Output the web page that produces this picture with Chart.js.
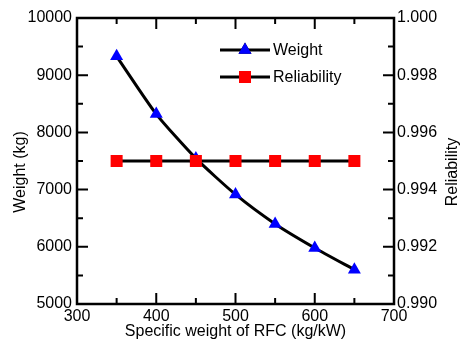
<!DOCTYPE html>
<html>
<head>
<meta charset="utf-8">
<script src="https://cdn.jsdelivr.net/npm/chart.js@4.4.0/dist/chart.umd.min.js"></script>
<style>
  html, body { margin: 0; padding: 0; background: #fff; }
  #wrap { width: 464px; height: 344px; }
</style>
</head>
<body>
<div id="wrap"><canvas id="chart"></canvas></div>
<script>
var specWeight = [350, 400, 450, 500, 550, 600, 650];
var weight = [9330, 8320, 7545, 6915, 6400, 5980, 5600];
var reliability = [0.995, 0.995, 0.995, 0.995, 0.995, 0.995, 0.995];
var seriesNames = ['Weight', 'Reliability'];

var FONT = 'Arial, "Liberation Sans", sans-serif';

function pts(xs, ys) {
    return xs.map(function (x, i) { return { x: x, y: ys[i] }; });
}

// frame, inward ticks on all sides, y titles and legend
var decor = {
    id: 'decor',
    afterDraw: function (chart) {
        var ctx = chart.ctx;
        var a = chart.chartArea;
        var xs = chart.scales.x, yl = chart.scales.y, yr = chart.scales.y1;
        ctx.save();
        ctx.strokeStyle = '#000';
        ctx.lineWidth = 2;
        ctx.beginPath();
        var v, p, len;
        for (v = 300; v <= 700; v += 50) {
            p = xs.getPixelForValue(v);
            len = (v % 100 === 0) ? 11 : 6;
            ctx.moveTo(p, a.bottom); ctx.lineTo(p, a.bottom - len);
            ctx.moveTo(p, a.top); ctx.lineTo(p, a.top + len);
        }
        for (v = 5000; v <= 10000; v += 500) {
            p = yl.getPixelForValue(v);
            len = (v % 1000 === 0) ? 11 : 6;
            ctx.moveTo(a.left, p); ctx.lineTo(a.left + len, p);
        }
        for (var k = 0; k <= 10; k++) {
            p = yr.getPixelForValue(0.990 + k * 0.001);
            len = (k % 2 === 0) ? 11 : 6;
            ctx.moveTo(a.right, p); ctx.lineTo(a.right - len, p);
        }
        ctx.stroke();

        ctx.lineWidth = 2.5;
        ctx.strokeRect(a.left, a.top, a.right - a.left, a.bottom - a.top);

        // axis titles (both read bottom to top)
        ctx.fillStyle = '#000';
        ctx.font = '16px ' + FONT;
        ctx.textAlign = 'center';
        ctx.textBaseline = 'middle';
        ctx.save();
        ctx.translate(21, 172);
        ctx.rotate(-Math.PI / 2);
        ctx.fillText('Weight (kg)', 0, 0);
        ctx.restore();
        ctx.save();
        ctx.translate(453, 172);
        ctx.rotate(-Math.PI / 2);
        ctx.fillText('Reliability', 0, 0);
        ctx.restore();

        // legend
        var rows = [50, 77];
        chart.data.datasets.forEach(function (ds) {
            var y = rows[seriesNames.indexOf(ds.label)];
            ctx.strokeStyle = '#000';
            ctx.lineWidth = 3;
            ctx.beginPath();
            ctx.moveTo(220, y); ctx.lineTo(270, y);
            ctx.stroke();
            Chart.helpers.drawPoint(ctx, {
                pointStyle: ds.pointStyle,
                radius: ds.pointRadius,
                borderWidth: 0
            }, 245, y);
            ctx.fillStyle = ds.pointBackgroundColor;
            ctx.fill();
            ctx.fillStyle = '#000';
            ctx.textAlign = 'left';
            ctx.fillText(ds.label, 273, y + 1);
        });
        ctx.restore();
    }
};

var tickFont = { family: FONT, size: 16 };

new Chart(document.getElementById('chart'), {
    type: 'line',
    data: {
        datasets: [{
            label: seriesNames[0],
            data: pts(specWeight, weight),
            yAxisID: 'y',
            borderColor: '#000',
            borderWidth: 3,
            pointStyle: 'triangle',
            pointRadius: 7.5,
            pointBackgroundColor: '#0000ff',
            pointBorderColor: '#0000ff',
            pointBorderWidth: 0,
            tension: 0.2,
            order: 2
        }, {
            label: seriesNames[1],
            data: pts(specWeight, reliability),
            yAxisID: 'y1',
            borderColor: '#000',
            borderWidth: 3,
            pointStyle: 'rect',
            pointRadius: 8.5,
            pointBackgroundColor: '#ff0000',
            pointBorderColor: '#ff0000',
            pointBorderWidth: 0,
            order: 1
        }]
    },
    options: {
        responsive: true,
        maintainAspectRatio: false,
        animation: false,
        layout: { padding: { top: 18, left: 0, right: 0, bottom: 0 } },
        plugins: { legend: { display: false }, tooltip: { enabled: false } },
        scales: {
            x: {
                type: 'linear',
                min: 300, max: 700,
                grid: { display: false, drawTicks: false },
                border: { display: false },
                afterFit: function (s) { s.height = 40; },
                ticks: {
                    stepSize: 100, padding: 3, color: '#000', font: tickFont,
                    callback: function (v) { return String(v); }
                },
                title: {
                    display: true,
                    text: 'Specific weight of RFC (kg/kW)',
                    color: '#000',
                    font: { family: FONT, size: 16 },
                    padding: { top: 0, bottom: 3 }
                }
            },
            y: {
                position: 'left',
                min: 5000, max: 10000,
                grid: { display: false, drawTicks: false },
                border: { display: false },
                afterFit: function (s) { s.width = 77; },
                ticks: {
                    stepSize: 1000, padding: 5, color: '#000', font: tickFont,
                    callback: function (v) { return String(v); }
                }
            },
            y1: {
                position: 'right',
                min: 0.990, max: 1.000,
                grid: { display: false, drawTicks: false },
                border: { display: false },
                afterFit: function (s) { s.width = 70; },
                ticks: {
                    stepSize: 0.002, padding: 3, color: '#000', font: tickFont,
                    callback: function (v) { return v.toFixed(3); }
                }
            }
        }
    },
    plugins: [decor]
});
</script>
</body>
</html>
